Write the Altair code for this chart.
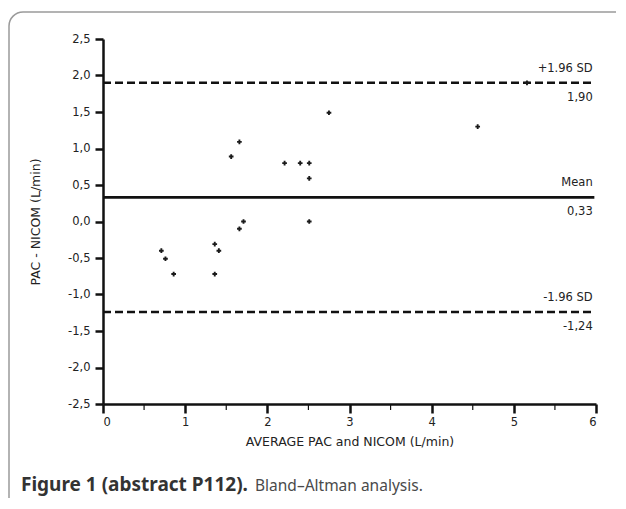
import altair as alt
import pandas as pd

# Data
avg_x = [0.71, 0.76, 0.86, 1.36, 1.41, 1.36, 1.56, 1.66, 1.66, 1.71,
         2.21, 2.40, 2.51, 2.51, 2.51, 2.75, 4.56, 5.16]
diff_y = [-0.40, -0.51, -0.72, -0.31, -0.40, -0.72, 0.89, 1.09, -0.10, 0.00,
          0.80, 0.80, 0.80, 0.59, 0.00, 1.49, 1.30, 1.90]

ref_values = [1.90, 0.33, -1.24]
ref_names = ["+1.96 SD", "Mean", "-1.96 SD"]
ref_value_labels = ["1,90", "0,33", "-1,24"]
ref_dashed = [True, False, True]

x_ticks = [0, 1, 2, 3, 4, 5, 6]
x_minor = [0.5, 1.5, 2.5, 3.5, 4.5, 5.5]
y_ticks = [2.5, 2.0, 1.5, 1.0, 0.5, 0.0, -0.5, -1.0, -1.5, -2.0, -2.5]

caption_bold = "Figure 1 (abstract P112)."
caption_rest = "Bland\u2013Altman analysis."

W, H = 493, 365
FONT = "DejaVu Sans"

pts = pd.DataFrame({"x": avg_x, "y": diff_y})
refs = pd.DataFrame({
    "v": ref_values, "name": ref_names, "lab": ref_value_labels,
    "dashed": ref_dashed, "x0": [0] * 3, "x1": [5.98] * 3, "xl": [5.96] * 3,
})
minor = pd.DataFrame({"x": x_minor})
one = pd.DataFrame({"a": [0]})

xscale = alt.Scale(domain=[0, 6], nice=False, zero=False)
yscale = alt.Scale(domain=[-2.5, 2.5], nice=False, zero=False)

xaxis = alt.Axis(
    values=x_ticks, format="d", grid=False, labelOverlap=False,
    domainColor="#111", domainWidth=2.5, tickColor="#111", tickWidth=2.5, tickSize=9,
    labelFont=FONT, labelFontSize=11.5, labelColor="#222", labelPadding=3,
    title="AVERAGE PAC and NICOM (L/min)", titleFont=FONT, titleFontSize=12.5,
    titleFontWeight="normal", titleColor="#222", titleY=37, titleBaseline="middle",
)
yaxis = alt.Axis(
    values=y_ticks, format=".1f", grid=False, labelOverlap=False,
    domainColor="#111", domainWidth=2.5, tickColor="#111", tickWidth=2.5, tickSize=8,
    labelFont=FONT, labelFontSize=11.5, labelColor="#222", labelPadding=5,
    title="PAC - NICOM (L/min)", titleFont=FONT, titleFontSize=12.5,
    titleFontWeight="normal", titleColor="#222", titleX=-68, titleY=H / 2,
    titleAlign="center", titleBaseline="middle",
)

points = alt.Chart(pts).mark_point(shape="cross", filled=True, size=22, color="#1a1a1a", opacity=1).encode(
    x=alt.X("x:Q", scale=xscale, axis=xaxis),
    y=alt.Y("y:Q", scale=yscale, axis=yaxis),
)

dashed_lines = alt.Chart(refs).transform_filter("datum.dashed").mark_rule(
    color="#111", strokeWidth=2.5, strokeDash=[8, 4]
).encode(x=alt.X("x0:Q", scale=xscale, axis=xaxis), x2="x1:Q",
         y=alt.Y("v:Q", scale=yscale, axis=yaxis))

solid_lines = alt.Chart(refs).transform_filter("!datum.dashed").mark_rule(
    color="#111", strokeWidth=2.8
).encode(x=alt.X("x0:Q", scale=xscale, axis=xaxis), x2="x1:Q",
         y=alt.Y("v:Q", scale=yscale, axis=yaxis))

top_labels = alt.Chart(refs).mark_text(
    align="right", baseline="middle", dy=-14, font=FONT, fontSize=11.5, color="#222"
).encode(x=alt.X("xl:Q", scale=xscale, axis=xaxis),
         y=alt.Y("v:Q", scale=yscale, axis=yaxis), text="name:N")

bottom_labels = alt.Chart(refs).mark_text(
    align="right", baseline="middle", dy=15, font=FONT, fontSize=11.5, color="#222"
).encode(x=alt.X("xl:Q", scale=xscale, axis=xaxis),
         y=alt.Y("v:Q", scale=yscale, axis=yaxis), text="lab:N")

minor_ticks = alt.Chart(minor).mark_rule(color="#111", strokeWidth=1.2).encode(
    x=alt.X("x:Q", scale=xscale, axis=xaxis), y=alt.value(H), y2=alt.value(H + 6)
)

frame = alt.Chart(one).mark_rect(
    cornerRadius=14, fillOpacity=0, stroke="#9a9a9a", strokeWidth=1.5
).encode(x=alt.value(-94), x2=alt.value(700), y=alt.value(-27), y2=alt.value(600))

cap1 = alt.Chart(one).mark_text(
    align="left", baseline="alphabetic", font="Noto Sans", fontSize=19, fontWeight="bold", color="#333"
).encode(x=alt.value(-82), y=alt.value(452), text=alt.value(caption_bold))

cap2 = alt.Chart(one).mark_text(
    align="left", baseline="alphabetic", font="Noto Sans", fontSize=15.5, color="#4a4a4a"
).encode(x=alt.value(152), y=alt.value(452), text=alt.value(caption_rest))

chart = alt.layer(
    frame, minor_ticks, dashed_lines, solid_lines, points, top_labels, bottom_labels, cap1, cap2
).properties(
    width=W, height=H,
    autosize=alt.AutoSizeParams(type="none"),
    padding={"left": 95, "top": 31, "right": 20, "bottom": 94},
).configure_view(stroke=None)

chart.save(
    "out.html",
    embed_options={
        "renderer": "svg",
        "actions": False,
        "formatLocale": {
            "decimal": ",", "thousands": ".", "grouping": [3],
            "currency": ["", "\u20ac"], "minus": "-",
        },
    },
)
